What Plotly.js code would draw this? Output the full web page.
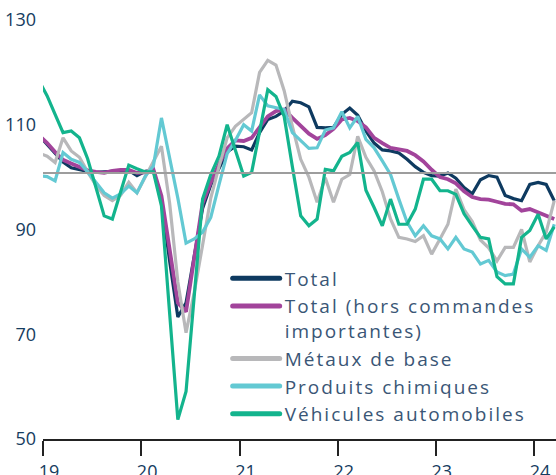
<!DOCTYPE html>
<html>
<head>
<meta charset="utf-8">
<script src="https://cdn.plot.ly/plotly-3.0.1.min.js"></script>
<style>
html,body{margin:0;padding:0;background:#fff;}
#chart{width:556px;height:475px;}
#chart .legendtext{letter-spacing:2px;}
#chart .legend .scrollbox{clip-path:none !important;}
#chart .legendlines path{stroke-width:5px !important;stroke-linecap:round;}
</style>
</head>
<body>
<div id="chart"></div>
<script>
// Monthly series, Dec 2018 .. Mar 2024
const START_YEAR = 2018, START_MONTH = 12;
const total = [108,106.2,104.6,102.9,101.8,101.4,101.1,100.9,101.0,101.2,101.2,101.3,100.3,101.1,101.3,95.5,84,73.3,76,85,94,98.5,101.5,104.8,105.9,105.8,105.2,108.5,111,111.6,112.6,114.5,114.2,113.4,109.5,109.4,109.5,112,113.2,111.8,108.8,106.5,105.2,105,104.6,103.4,102,100.9,100.3,100.2,100.8,99.8,98,96.8,99.5,100.3,100,96.5,95.9,95.5,98.6,99,98.6,95.5];
const totalHorsCI = [108,106.5,104.8,103.3,102.6,102,101.3,101,100.8,101.2,101.4,101.4,100.8,100.9,101.5,96.4,86,76,74.3,85,95,99,102.5,105.5,107,106.9,107.5,109.5,111.6,112.6,112.9,111.3,109.7,108.3,107.3,108,109.2,111,111.3,110.7,109.5,107.5,106.5,105.6,105.3,105,104.2,103,101.4,100,99.6,98.8,97.3,96.2,95.8,95.7,95.3,94.9,94.8,93.6,93.9,93.3,92.6,92];
const metaux = [104.6,104,102.8,107.5,105,103.8,101,98.5,96.5,95.5,96.5,99,97,100,102.8,105.9,95,80,70.3,78,87,96,102,107.5,109.7,111,112.3,120,122.3,121.4,116.5,109.7,103.4,100,95.2,99.9,95.2,99.6,100.5,107.8,103.8,101.2,97.2,92,88.5,88.2,87.7,88.8,85.3,88.2,91,97.7,93.8,91.5,88,86.5,84,86.6,86.6,90,83.8,86.9,89.5,95.5];
const chimie = [100.3,100.1,99.3,104.7,103.4,102.8,101,99,97,96,96.8,98.3,97,100.2,102.1,111.3,104,96,87.4,88.2,89.5,92.3,98.5,104.5,107,110,108.8,115.7,113.6,113.2,112.9,108.5,106.9,105.5,105.6,109,109.4,112.5,109.4,111.6,107.2,105.6,103.1,100.5,95.8,91.4,88.8,90.7,88.8,88.2,86.3,88.5,86.3,85.7,83.4,84.1,81.9,81.2,81.5,86.3,84.7,86.9,86,91];
const auto = [118.5,115.5,112,108.5,108.8,107.5,103.5,98,92.6,92,97,102.3,101.6,101,101,94.5,74,53.7,59.1,77,95.8,100.5,104,110,105,100.2,100.9,108.5,116.7,115.4,111.6,102,92.6,90.7,92,101.5,101.2,104,104.7,106.6,97.5,94.2,90.7,95.8,91,91,93.9,99.6,99.6,97.4,97.4,96.7,93,90.7,88.5,88.2,81,79.6,79.6,88.5,89.8,92.9,88.2,90.5];

const seriesNames = ["Total","Total (hors commandes<br>importantes)","Métaux de base","Produits chimiques","Véhicules automobiles"];
const seriesColors = ["#0e3a60","#a2449b","#b8b8ba","#63c9d3","#13b48d"];
const seriesWidths = [3.2,3.8,3.2,3.2,3.2];
const tickVals = ["2019-01-01","2020-01-01","2021-01-01","2022-01-01","2023-01-01","2024-01-01"];
const tickText = ["19","20","21","22","23","24"];
const yTicks = [50,70,90,110,130];
const REF_LEVEL = 100.8;

const months = [];
for (let i = 0; i < total.length; i++) {
  const m0 = START_MONTH - 1 + i;
  const y = START_YEAR + Math.floor(m0 / 12);
  const m = (m0 % 12) + 1;
  months.push(y + "-" + String(m).padStart(2, "0"));
}

const data = [total, totalHorsCI, metaux, chimie, auto];
const traces = data.map((vals, i) => ({
  type: "scatter",
  mode: "lines",
  x: months,
  y: vals,
  xperiod: "M1",
  xperiodalignment: "middle",
  name: seriesNames[i],
  line: {color: seriesColors[i], width: seriesWidths[i]},
  hoverinfo: "skip"
}));

const FONT = "Open Sans, Lato, sans-serif";
const layout = {
  width: 556, height: 475,
  margin: {l: 43, r: 0, t: 20, b: 36},
  paper_bgcolor: "#ffffff",
  plot_bgcolor: "#ffffff",
  showlegend: true,
  font: {family: FONT, size: 18, color: "#163c60"},
  xaxis: {
    type: "date",
    range: ["2019-01-01", "2024-03-23"],
    tickmode: "array",
    tickvals: tickVals,
    ticktext: tickText,
    ticks: "outside",
    ticklen: 15,
    tickwidth: 2,
    tickcolor: "#222222",
    showline: true,
    linecolor: "#222222",
    linewidth: 2,
    showgrid: false,
    zeroline: false,
    ticklabelshift: 6,
    tickfont: {family: FONT, size: 18, color: "#163c60"}
  },
  yaxis: {
    range: [50, 130],
    tickmode: "array",
    tickvals: yTicks,
    showgrid: false,
    zeroline: false,
    showline: false,
    ticks: "",
    ticklabelstandoff: 6,
    tickfont: {family: FONT, size: 18, color: "#163c60"}
  },
  shapes: [{
    type: "line", xref: "paper", x0: 0, x1: 1, yref: "y", y0: REF_LEVEL, y1: REF_LEVEL,
    line: {color: "#9d9d9d", width: 2}, layer: "above"
  }],
  legend: {
    x: 0.36, xanchor: "left",
    y: 0.4285, yanchor: "top",
    bgcolor: "rgba(0,0,0,0)",
    borderwidth: 0,
    valign: "top",
    tracegroupgap: 0,
    itemwidth: 47,
    font: {family: FONT, size: 19, color: "#3a5676"}
  }
};

Plotly.newPlot("chart", traces, layout, {displayModeBar: false, staticPlot: true});
</script>
</body>
</html>
